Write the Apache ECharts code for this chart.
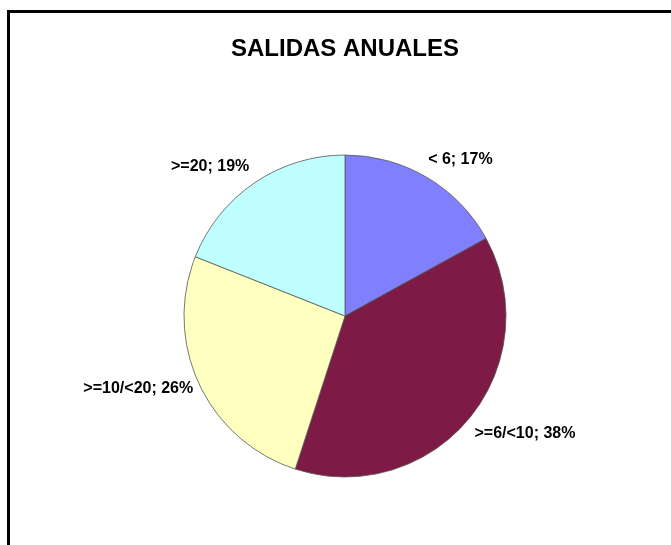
<!DOCTYPE html>
<html>
<head>
<meta charset="utf-8">
<script src="https://cdn.jsdelivr.net/npm/echarts@6/dist/echarts.min.js"></script>
<style>
html,body{margin:0;padding:0;background:#fff;}
#chart{width:671px;height:545px;}
</style>
</head>
<body>
<div id="chart"></div>
<script>
const categories = ['< 6', '>=6/<10', '>=10/<20', '>=20'];
const values = [17, 38, 26, 19];
const colors = ['#8080FF', '#7D1A45', '#FFFFC0', '#C0FFFF'];

// small label nudges to mimic the original placement
const labelNudge = [[-14, -1], [-15, 2], [17, -4], [11, 0]];

const chart = echarts.init(document.getElementById('chart'), null, {renderer: 'canvas'});
chart.setOption({
  backgroundColor: '#ffffff',
  animation: false,
  title: {
    text: 'SALIDAS ANUALES',
    left: 226,
    top: 32,
    textStyle: {fontFamily: 'Liberation Sans, Arial, sans-serif', fontWeight: 'bold', fontSize: 24, color: '#000'}
  },
  graphic: [{
    type: 'rect',
    shape: {x: 8.5, y: 11.5, width: 700, height: 600},
    style: {fill: 'none', stroke: '#000', lineWidth: 3},
    silent: true
  }],
  series: [{
    type: 'pie',
    center: [345, 316],
    radius: 161,
    startAngle: 90,
    clockwise: true,
    avoidLabelOverlap: false,
    data: categories.map((c, i) => ({name: c, value: values[i], itemStyle: {color: colors[i]}})),
    itemStyle: {borderColor: '#555', borderWidth: 0.8},
    label: {
      show: true,
      position: 'outside',
      formatter: '{b}; {c}%',
      fontFamily: 'Liberation Sans, Arial, sans-serif',
      fontWeight: 'bold',
      fontSize: 16,
      color: '#000'
    },
    labelLine: {show: false, length: 20, length2: 0},
    labelLayout: function (p) {
      const n = labelNudge[p.dataIndex];
      return {dx: n[0], dy: n[1]};
    }
  }]
});
</script>
</body>
</html>
